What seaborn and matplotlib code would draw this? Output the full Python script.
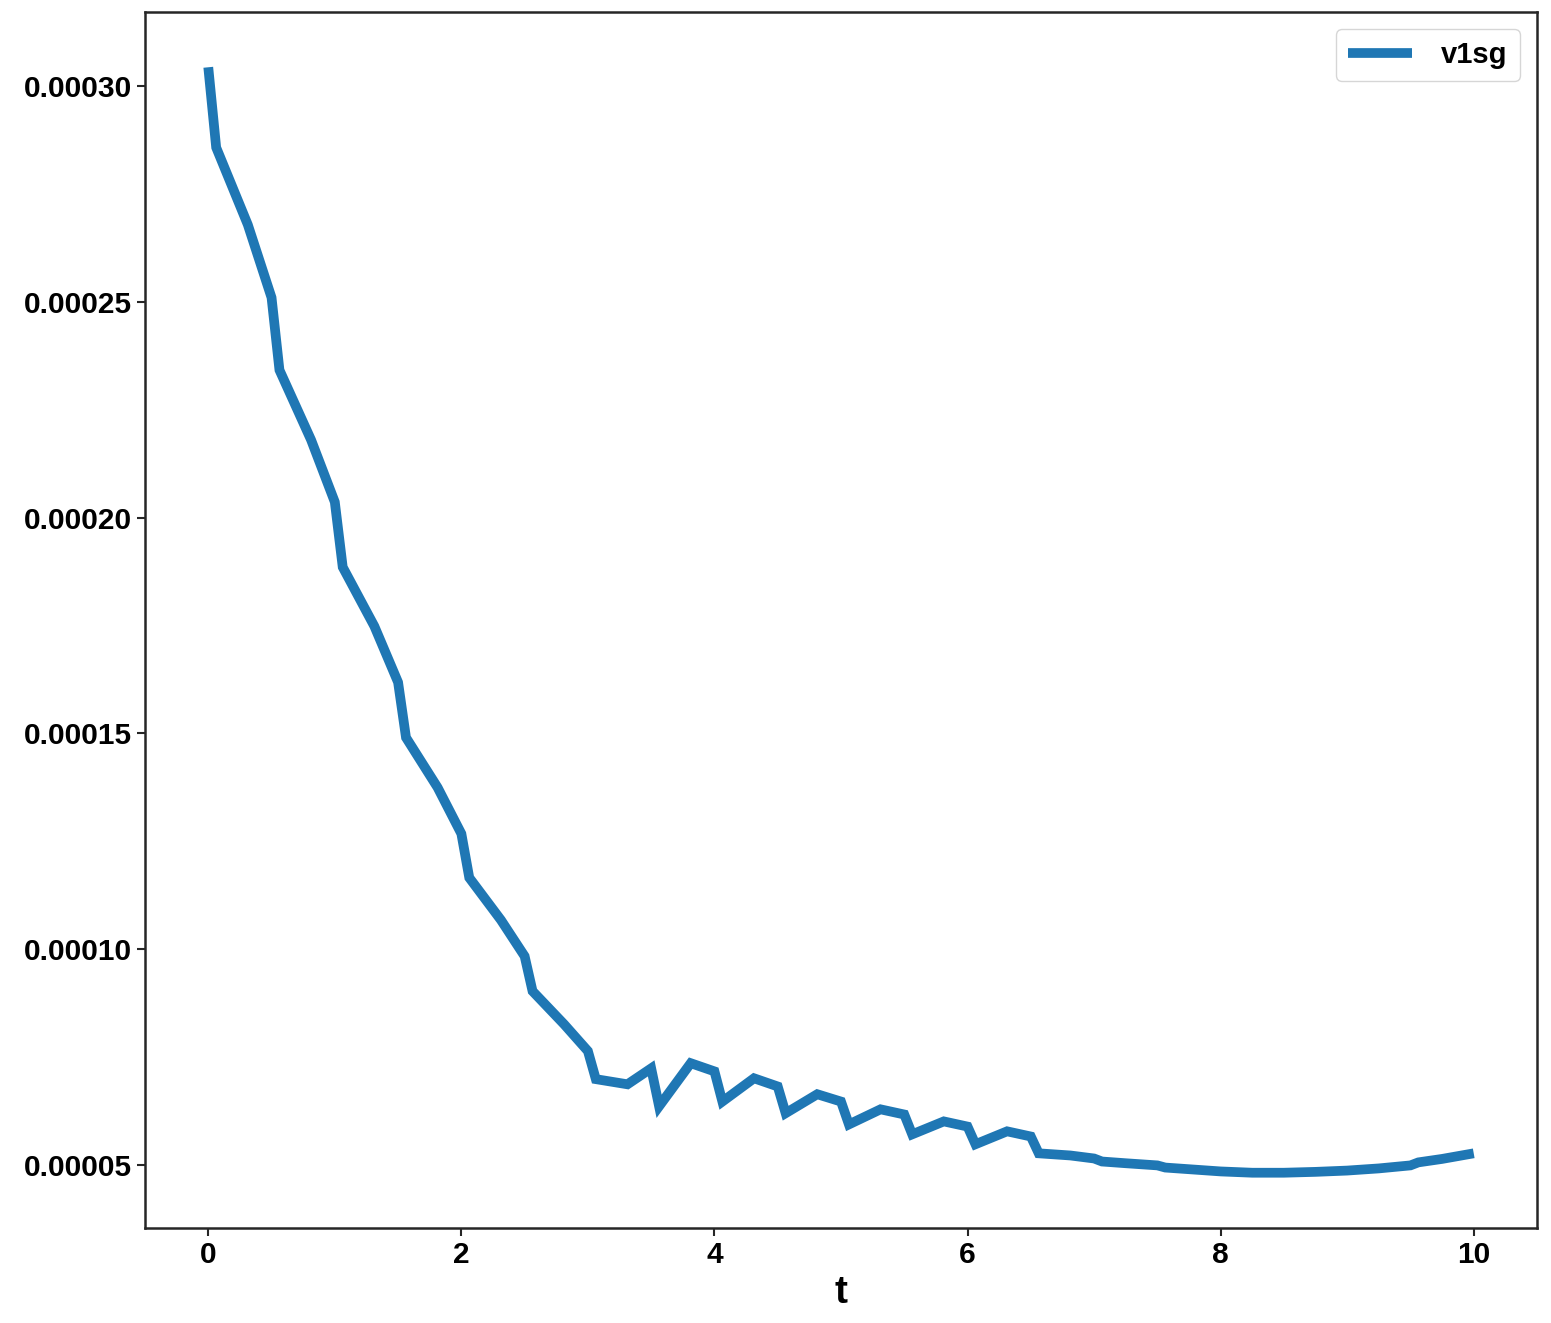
import numpy as np
import pandas as pd
import matplotlib
matplotlib.use("Agg")
import matplotlib.pyplot as plt
import seaborn as sns

# time points (vertices of the curve)
t = [0.0, 0.0625, 0.3125, 0.5, 0.5625, 0.8125, 1.0, 1.0625, 1.3125, 1.5,
     1.5625, 1.8125, 2.0, 2.0625, 2.3125, 2.5, 2.5625, 2.8125, 3.0, 3.0625,
     3.3125, 3.5, 3.5625, 3.8125, 4.0, 4.0625, 4.3125, 4.5, 4.5625, 4.8125,
     5.0, 5.0625, 5.3125, 5.5, 5.5625, 5.8125, 6.0, 6.0625, 6.3125, 6.5,
     6.5625, 6.8125, 7.0, 7.0625, 7.25, 7.5, 7.5625, 8.0, 8.25, 8.5, 8.75,
     9.0, 9.25, 9.5, 9.5625, 9.75, 10.0]

v1sg = [3.044e-4, 2.858e-4, 2.679e-4, 2.510e-4, 2.342e-4, 2.180e-4, 2.036e-4,
        1.885e-4, 1.748e-4, 1.618e-4, 1.490e-4, 1.374e-4, 1.267e-4, 1.165e-4,
        1.067e-4, 0.983e-4, 0.902e-4, 0.825e-4, 0.763e-4, 0.698e-4, 0.686e-4,
        0.723e-4, 0.635e-4, 0.735e-4, 0.716e-4, 0.646e-4, 0.700e-4, 0.681e-4,
        0.619e-4, 0.663e-4, 0.646e-4, 0.593e-4, 0.628e-4, 0.616e-4, 0.570e-4,
        0.600e-4, 0.588e-4, 0.547e-4, 0.577e-4, 0.565e-4, 0.526e-4, 0.521e-4,
        0.514e-4, 0.507e-4, 0.503e-4, 0.498e-4, 0.493e-4, 0.484e-4, 0.481e-4,
        0.481e-4, 0.483e-4, 0.486e-4, 0.491e-4, 0.498e-4, 0.505e-4, 0.513e-4,
        0.526e-4]

df = pd.DataFrame({"t": t, "v1sg": v1sg})

sns.set_style("ticks")
plt.rcParams["font.family"] = ["Liberation Sans", "DejaVu Sans"]
plt.rcParams["font.weight"] = "bold"
plt.rcParams["text.color"] = "black"
plt.rcParams["xtick.color"] = ".15"
plt.rcParams["ytick.color"] = ".15"

fig = plt.figure(figsize=(15.51, 13.23), dpi=100)
ax = fig.add_axes([145 / 1551, 1 - 1228 / 1323, (1537 - 145) / 1551, (1228 - 12) / 1323])

sns.lineplot(data=df, x="t", y="v1sg", ax=ax, color="#1f77b4", linewidth=7,
             label="v1sg", solid_capstyle="butt", solid_joinstyle="miter")

ax.set_xticks([0, 2, 4, 6, 8, 10])
ax.set_yticks([0.00005, 0.00010, 0.00015, 0.00020, 0.00025, 0.00030])
ax.set_yticklabels(["0.00005", "0.00010", "0.00015", "0.00020", "0.00025", "0.00030"])
ax.tick_params(labelsize=21.5, width=1.5, length=6, labelcolor="black")
for s in ax.spines.values():
    s.set_linewidth(1.8)

ax.set_xlabel("t", fontsize=28, fontweight="bold", color="black")
ax.set_ylabel("")

leg = ax.legend(loc="upper right", fontsize=21, handlelength=2.2,
                handletextpad=1.0, borderaxespad=0.6)
for txt in leg.get_texts():
    txt.set_fontweight("bold")
for line in leg.get_lines():
    line.set_solid_capstyle("butt")

fig.savefig("out.png", dpi=100)
